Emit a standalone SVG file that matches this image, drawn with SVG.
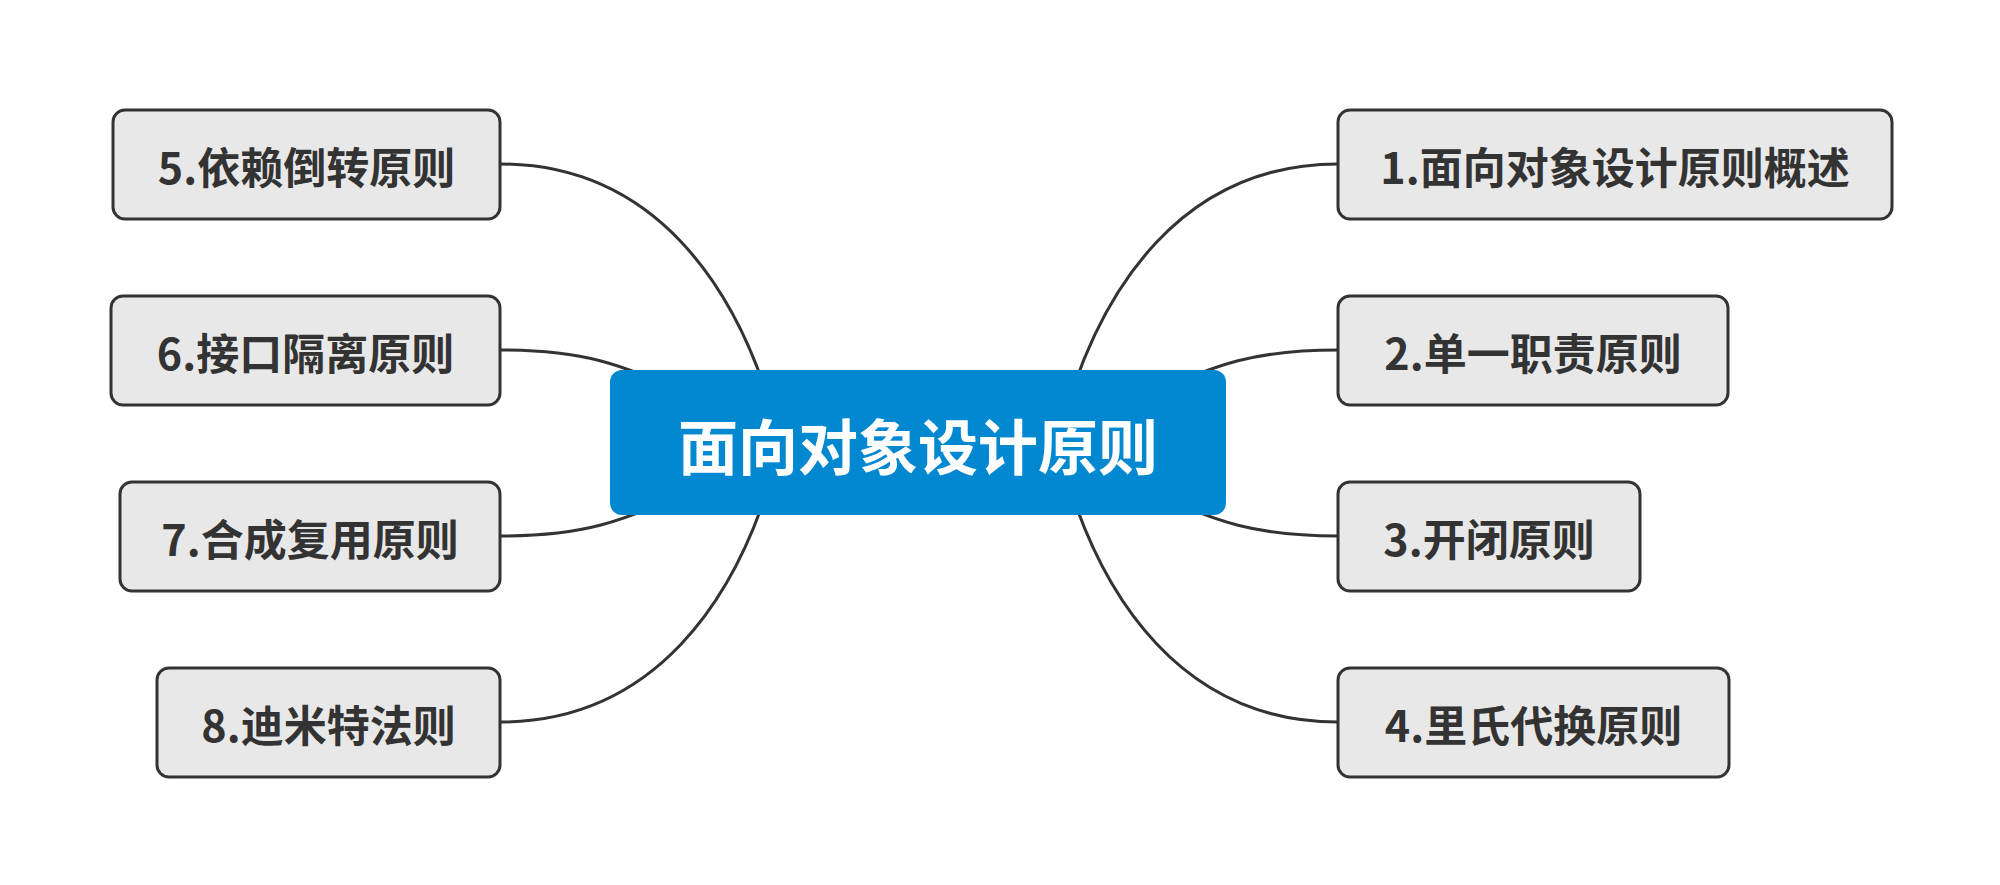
<svg xmlns="http://www.w3.org/2000/svg" width="2000" height="885" viewBox="0 0 2000 885">
<style>
.conn{fill:none;stroke:#333333;stroke-width:3}
.node rect{fill:#E8E8E8;stroke:#333333;stroke-width:3}
.node text{font-family:"Noto Sans CJK SC","Noto Sans",sans-serif;font-weight:bold;font-size:43px;fill:#333333;text-anchor:middle;dominant-baseline:central}
.root rect{fill:#0288D1}
.root text{font-family:"Noto Sans CJK SC","Noto Sans",sans-serif;font-weight:bold;font-size:60px;fill:#FFFFFF;text-anchor:middle;dominant-baseline:central}
</style>
<rect x="0" y="0" width="2000" height="885" fill="#FFFFFF"/>
<g id="connectors">
<path class="conn" d="M500,164 C650,164 740,280 780,440"/>
<path class="conn" d="M500,350 C580,350 620,362 700,400"/>
<path class="conn" d="M500,536 C580,536 620,524 700,486"/>
<path class="conn" d="M500,722 C650,722 740,606 780,446"/>
<path class="conn" d="M1338,164 C1188,164 1098,280 1058,440"/>
<path class="conn" d="M1338,350 C1258,350 1218,362 1138,400"/>
<path class="conn" d="M1338,536 C1258,536 1218,524 1138,486"/>
<path class="conn" d="M1338,722 C1188,722 1098,606 1058,446"/>
</g>
<g id="root" class="root">
<rect x="610" y="370" width="616" height="145" rx="12"/>
<text x="918" y="443">面向对象设计原则</text>
</g>
<g id="n1" class="node">
<rect x="1338" y="110" width="554" height="109" rx="12"/>
<text x="1615" y="165">1.面向对象设计原则概述</text>
</g>
<g id="n2" class="node">
<rect x="1338" y="296" width="390" height="109" rx="12"/>
<text x="1533" y="351">2.单一职责原则</text>
</g>
<g id="n3" class="node">
<rect x="1338" y="482" width="302" height="109" rx="12"/>
<text x="1489" y="537">3.开闭原则</text>
</g>
<g id="n4" class="node">
<rect x="1338" y="668" width="391" height="109" rx="12"/>
<text x="1533.5" y="723">4.里氏代换原则</text>
</g>
<g id="n5" class="node">
<rect x="113" y="110" width="387" height="109" rx="12"/>
<text x="306.5" y="165">5.依赖倒转原则</text>
</g>
<g id="n6" class="node">
<rect x="111" y="296" width="389" height="109" rx="12"/>
<text x="305.5" y="351">6.接口隔离原则</text>
</g>
<g id="n7" class="node">
<rect x="120" y="482" width="380" height="109" rx="12"/>
<text x="310" y="537">7.合成复用原则</text>
</g>
<g id="n8" class="node">
<rect x="157" y="668" width="343" height="109" rx="12"/>
<text x="328.5" y="723">8.迪米特法则</text>
</g>
</svg>
